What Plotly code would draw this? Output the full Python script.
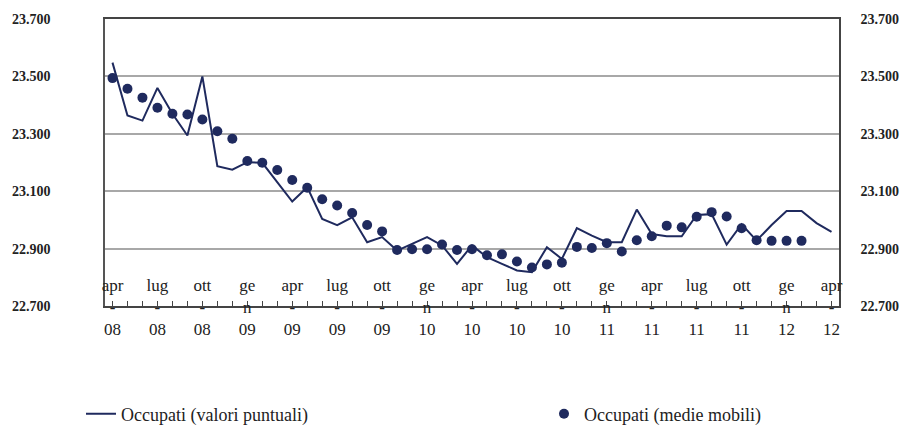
import plotly.graph_objects as go

months_it = ["gen", "feb", "mar", "apr", "mag", "giu", "lug", "ago", "set", "ott", "nov", "dic"]
categories = []
for k in range(49):
    m = (3 + k) % 12
    y = 8 + (3 + k) // 12
    categories.append(f"{months_it[m]}-{y:02d}")

occupati_puntuali = [23548, 23364, 23346, 23460, 23370, 23294, 23500, 23187, 23175, 23201,
                     23199, 23131, 23064, 23114, 23003, 22982, 23009, 22922, 22940, 22893,
                     22916, 22940, 22911, 22847, 22911, 22870, 22847, 22824, 22818, 22905,
                     22864, 22971, 22945, 22922, 22922, 23036, 22951, 22943, 22943, 23017,
                     23020, 22914, 22985, 22928, 22982, 23031, 23031, 22989, 22958]

occupati_medie = [23494, 23457, 23426, 23391, 23370, 23367, 23350, 23309, 23283, 23205,
                  23199, 23174, 23139, 23112, 23072, 23050, 23024, 22982, 22960, 22895,
                  22898, 22898, 22914, 22895, 22898, 22877, 22880, 22855, 22834, 22845,
                  22851, 22906, 22902, 22919, 22890, 22929, 22943, 22980, 22974, 23011,
                  23027, 23012, 22971, 22929, 22927, 22927, 22927, None, None]

y_tickvals = [22700, 22900, 23100, 23300, 23500, 23700]
y_ticktext = ["22.700", "22.900", "23.100", "23.300", "23.500", "23.700"]

def xlabel(cat):
    m, yy = cat.split("-")
    if m == "gen":
        return f"ge<br>n<br>{yy}"
    return f"{m}<br>-<br>{yy}"

x_ticktext = [xlabel(c) if i % 3 == 0 else "" for i, c in enumerate(categories)]

NAVY = "#1f2a5e"
SERIF = "Liberation Serif, Times New Roman, serif"

fig = go.Figure()
fig.add_trace(go.Scatter(
    x=categories, y=occupati_puntuali, mode="lines",
    line=dict(color=NAVY, width=2),
    name="Occupati (valori puntuali)", legend="legend",
))
fig.add_trace(go.Scatter(
    x=categories, y=occupati_medie, mode="markers",
    marker=dict(color=NAVY, size=10, symbol="circle"),
    name="Occupati (medie mobili)", legend="legend2",
))
fig.add_trace(go.Scatter(
    x=categories, y=occupati_puntuali, mode="lines", yaxis="y2",
    line=dict(width=0), opacity=0, showlegend=False, hoverinfo="skip",
))

legend_common = dict(
    orientation="h", xref="container", yref="container",
    xanchor="left", yanchor="middle",
    font=dict(family=SERIF, size=18, color="#222222"),
    bgcolor="rgba(0,0,0,0)",
)

fig.update_layout(
    width=905, height=427,
    margin=dict(l=105, r=66, t=19, b=121, autoexpand=False),
    paper_bgcolor="white", plot_bgcolor="white",
    font=dict(family=SERIF, color="#222222"),
    showlegend=True,
    legend=dict(x=81 / 905, y=1 - 414 / 427, **legend_common),
    legend2=dict(x=544 / 905, y=1 - 414 / 427, **legend_common),
    xaxis=dict(
        type="category", categoryorder="array", categoryarray=categories,
        range=[-0.5, 48.5],
        tickmode="array", tickvals=categories, ticktext=x_ticktext,
        ticks="inside", ticklen=5, tickcolor="#444444", tickwidth=1,
        tickangle=0,
        tickfont=dict(family=SERIF, size=17, color="#222222"),
        ticklabelstandoff=-37,
        showline=True, linecolor="#444444", linewidth=1.5, mirror=True,
        showgrid=False, zeroline=False, automargin=False,
    ),
    yaxis=dict(
        range=[22700, 23700],
        tickmode="array", tickvals=y_tickvals, ticktext=y_ticktext,
        tickfont=dict(family=SERIF, size=14, color="#222222", weight="bold"),
        showline=True, linecolor="#555555", linewidth=1.5,
        showgrid=True, gridcolor="#a8a8a8", gridwidth=1.5,
        zeroline=False, ticks="", ticklabelstandoff=50, automargin=False,
    ),
    yaxis2=dict(
        range=[22700, 23700], overlaying="y", side="right",
        tickmode="array", tickvals=y_tickvals, ticktext=y_ticktext,
        tickfont=dict(family=SERIF, size=14, color="#222222", weight="bold"),
        showline=True, linecolor="#444444", linewidth=1.5,
        showgrid=False, zeroline=False, ticks="", ticklabelstandoff=17,
        automargin=False,
    ),
)

fig.write_html(
    "out.html",
    config={"displayModeBar": False},
    post_script="document.body.style.margin='0';document.body.style.overflow='hidden';",
)
